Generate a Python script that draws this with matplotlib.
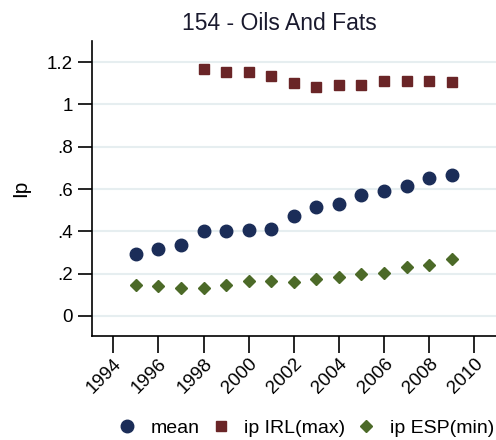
import numpy as np
import matplotlib.pyplot as plt

plt.rcParams['font.family'] = ['Liberation Sans', 'DejaVu Sans']

# --- dane ---
years = np.arange(1995, 2010)
mean_ip = [0.294, 0.318, 0.333, 0.400, 0.403, 0.406, 0.412, 0.474, 0.513,
           0.531, 0.573, 0.589, 0.613, 0.653, 0.665]
irl_years = np.arange(1998, 2010)
irl_max = [1.167, 1.152, 1.152, 1.134, 1.100, 1.081, 1.093, 1.093, 1.109,
           1.109, 1.109, 1.104]
esp_min = [0.145, 0.141, 0.134, 0.131, 0.147, 0.163, 0.163, 0.161, 0.175,
           0.185, 0.198, 0.202, 0.229, 0.242, 0.267]

y_ticks = [0, 0.2, 0.4, 0.6, 0.8, 1.0, 1.2]
y_labels = ["0", ".2", ".4", ".6", ".8", "1", "1.2"]
x_ticks = np.arange(1994, 2011, 2)

fig = plt.figure(figsize=(4.96, 4.40), dpi=100)
ax = fig.add_axes([0.1855, 0.2364, 0.8145, 0.6705])

ax.plot(years, mean_ip, 'o', color='#1b2d58', ms=9, label="mean", zorder=3)
ax.plot(irl_years, irl_max, 's', color='#6a2527', ms=7.5, label="ip IRL(max)", zorder=3)
ax.plot(years, esp_min, 'D', color='#4c6a28', ms=6.5, label="ip ESP(min)", zorder=3)

ax.set_xlim(1993.06, 2010.96)
ax.set_ylim(-0.095, 1.30)
ax.set_yticks(y_ticks)
ax.set_yticklabels(y_labels)
ax.set_xticks(x_ticks)
ax.set_xticklabels([str(x) for x in x_ticks], rotation=45, ha='right',
                   rotation_mode='anchor')
ax.grid(axis='y', color='#e6eef0', lw=1.5)
ax.set_axisbelow(True)

ax.spines['top'].set_visible(False)
ax.spines['right'].set_visible(False)
ax.tick_params(axis='y', length=10, width=1.2, labelsize=13.5, pad=4)
ax.tick_params(axis='x', length=12, width=1.2, labelsize=13.5, pad=2)
ax.spines['left'].set_linewidth(1.2)
ax.spines['bottom'].set_linewidth(1.2)

ax.set_ylabel("Ip", fontsize=15, labelpad=12)
fig.text(279 / 496, 1 - 23 / 440, "154 - Oils And Fats", fontsize=16.5,
         ha='center', va='center', color='#1a1a2e')

fig.legend(loc='center right', bbox_to_anchor=(1.0, 12 / 440), ncol=3,
           frameon=False, fontsize=14, handletextpad=0.6, columnspacing=0.5,
           handlelength=1.2, borderaxespad=0.0, borderpad=0.1)

fig.savefig("out.png", dpi=100)
